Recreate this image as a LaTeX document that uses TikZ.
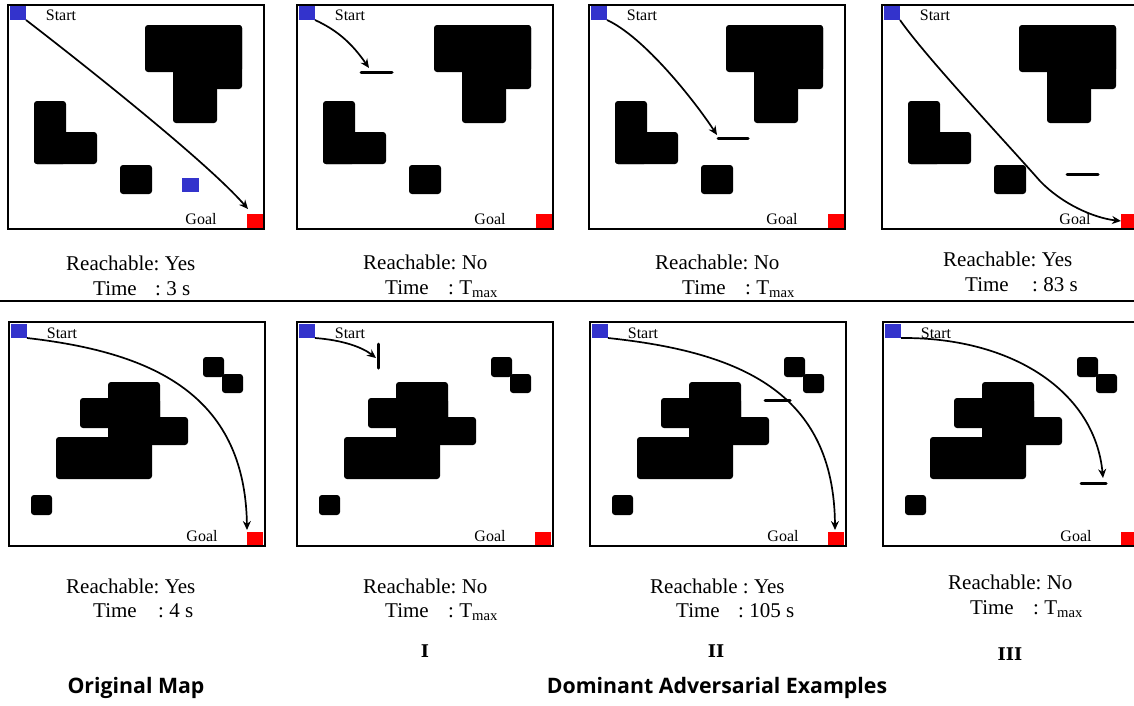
\documentclass[tikz,border=0pt]{standalone}
\usepackage{fontspec}
\setmainfont{Liberation Serif}
\newfontfamily\capfont{Open Sans}
\newfontfamily\romfont{DejaVu Serif}
\usetikzlibrary{arrows.meta}
\definecolor{startblue}{RGB}{51,51,204}
\definecolor{goalred}{RGB}{255,0,0}
\frenchspacing
\tikzset{
 mapframe/.style={draw=black,line width=2.5pt},
 obst/.style={fill=black,rounded corners=3pt},
 startsq/.style={fill=startblue,minimum width=16pt,minimum height=14pt,inner sep=0pt,outer sep=0pt},
 goalsq/.style={fill=goalred,minimum width=16pt,minimum height=14pt,inner sep=0pt,outer sep=0pt},
 maplbl/.style={font=\fontsize{16}{18}\selectfont,inner sep=0pt},
 route/.style={draw=black,line width=1.7pt,-{Stealth[length=9pt,width=8pt]}},
 barrier/.style={draw=black,line width=3pt,line cap=round},
 res/.style={font=\fontsize{21}{24}\selectfont,inner sep=0pt,anchor=base west},
 roman/.style={font=\romfont\bfseries\fontsize{17.5}{20}\selectfont,inner sep=0pt},
 caption/.style={font=\capfont\bfseries\fontsize{21.3}{24}\selectfont,inner sep=0pt},
 sepline/.style={draw=black,line width=2pt},
}
\newcommand\mytopmap[1]{%
  \fill[obst] (137,20) rectangle (234,67);
  \fill[obst] (165,20) rectangle (234,84);
  \fill[obst] (165,20) rectangle (209,118);
  \fill[obst] (26,96) rectangle (58,159);
  \fill[obst] (26,127) rectangle (89,159);
  \fill[obst] (112,160) rectangle (144,189);
  \node[startsq] (s#1) at (10,8) {};
  \node[goalsq] (g#1) at (247,216) {};
  \node[maplbl] (st#1) at (53,10) {Start};
  \node[maplbl] (gl#1) at (193,214) {Goal};
}
\newcommand\mybotmap[1]{%
  \fill[obst] (194,35) rectangle (215,55);
  \fill[obst] (213,52) rectangle (234,71);
  \fill[obst] (99,60) rectangle (151,100);
  \fill[obst] (71,76) rectangle (151,106);
  \fill[obst] (99,95) rectangle (179,123);
  \fill[obst] (47,115) rectangle (143,157);
  \fill[obst] (22,173) rectangle (43,193);
  \node[startsq] (s#1) at (10,9) {};
  \node[goalsq] (g#1) at (246,216.5) {};
  \node[maplbl] (st#1) at (53,11) {Start};
  \node[maplbl] (gl#1) at (193,214) {Goal};
}
\begin{document}
\begin{tikzpicture}[x=1pt,y=-1pt]
\useasboundingbox (0,0) rectangle (1134,705);
\clip (0,0) rectangle (1134,705);
\fill[white] (0,0) rectangle (1134,705);

% ---------- top row ----------
\begin{scope}[shift={(8,5)}]
  \mytopmap{1}
  \fill[startblue] (174,173) rectangle (191,187);
  \coordinate (e1) at (240,204);
  \draw[route] (s1.south east) .. controls (79,62) and (200,158) .. (e1);
  \draw[mapframe] (0,0) rectangle (256,224);
\end{scope}
\begin{scope}[shift={(297,5)}]
  \mytopmap{2}
  \draw[barrier] (64,67) -- (95,67);
  \coordinate (e2) at (72,63);
  \draw[route] (s2.south east) .. controls (42,26) and (56,40) .. (e2);
  \draw[mapframe] (0,0) rectangle (256,224);
\end{scope}
\begin{scope}[shift={(589,5)}]
  \mytopmap{3}
  \draw[barrier] (129,133) -- (159,133);
  \coordinate (e3) at (128,130);
  \draw[route] (s3.south east) .. controls (55,32) and (105,95) .. (e3);
  \draw[mapframe] (0,0) rectangle (256,224);
\end{scope}
\begin{scope}[shift={(882,5)}]
  \mytopmap{4}
  \draw[barrier] (185,169) -- (216,169);
  \coordinate (m4) at (158,176);
  \draw[route] (s4.south east) .. controls (43,51) and (120,133) .. (m4)
     .. controls (180,199) and (212,213) .. (g4.west);
  \draw[mapframe] (0,0) rectangle (256,224);
\end{scope}

% ---------- results, top ----------
\node[res] (r1) at (66,270) {Reachable: Yes};
\node[res] (t1) at (93,295) {Time};
\node[res] (v1) at (155,295) {: 3 s};
\node[res] (r2) at (363,269) {Reachable: No};
\node[res] (t2) at (385,294) {Time};
\node[res] (v2) at (448,294) {: T\textsubscript{max}};
\node[res] (r3) at (655,269) {Reachable: No};
\node[res] (t3) at (682,294) {Time};
\node[res] (v3) at (745,294) {: T\textsubscript{max}};
\node[res] (r4) at (943,266) {Reachable: Yes};
\node[res] (t4) at (965,291) {Time};
\node[res] (v4) at (1032,291) {: 83 s};

\draw[sepline] (0,301) -- (1134,301);

% ---------- bottom row ----------
\begin{scope}[shift={(9,322)}]
  \mybotmap{5}
  \coordinate (e5) at (238,208);
  \draw[route] (s5.south east) .. controls (140,30) and (236,70) .. (e5);
  \draw[mapframe] (0,0) rectangle (256,224);
\end{scope}
\begin{scope}[shift={(297,322)}]
  \mybotmap{6}
  \draw[barrier] (81,22) -- (81,46);
  \coordinate (e6) at (79,36);
  \draw[route] (s6.south east) .. controls (45,18) and (65,25) .. (e6);
  \draw[mapframe] (0,0) rectangle (256,224);
\end{scope}
\begin{scope}[shift={(590,322)}]
  \mybotmap{7}
  \draw[barrier] (175,78) -- (200,78);
  \coordinate (e7) at (245,208);
  \draw[route] (s7.south east) .. controls (150,30) and (244,70) .. (e7);
  \draw[mapframe] (0,0) rectangle (256,224);
\end{scope}
\begin{scope}[shift={(883,322)}]
  \mybotmap{8}
  \draw[barrier] (198,161) -- (223,161);
  \coordinate (e8) at (220,156);
  \draw[route] (s8.south east) .. controls (130,15) and (212,70) .. (e8);
  \draw[mapframe] (0,0) rectangle (256,224);
\end{scope}

% ---------- results, bottom ----------
\node[res] (r5) at (66,593) {Reachable: Yes};
\node[res] (t5) at (93,617) {Time};
\node[res] (v5) at (158,617) {: 4 s};
\node[res] (r6) at (363,593) {Reachable: No};
\node[res] (t6) at (385,617) {Time};
\node[res] (v6) at (448,617) {: T\textsubscript{max}};
\node[res] (r7) at (650,593) {Reachable : Yes};
\node[res] (t7) at (676,617) {Time};
\node[res] (v7) at (738,617) {: 105 s};
\node[res] (r8) at (948,589) {Reachable: No};
\node[res] (t8) at (970,614) {Time};
\node[res] (v8) at (1033,614) {: T\textsubscript{max}};

\node[roman] (n1) at (425,651) {I};
\node[roman] (n2) at (716,651) {II};
\node[roman] (n3) at (1010,654) {III};

\node[caption] (c1) at (136,688) {Original Map};
\node[caption] (c2) at (717,688) {Dominant Adversarial Examples};
\end{tikzpicture}
\end{document}
